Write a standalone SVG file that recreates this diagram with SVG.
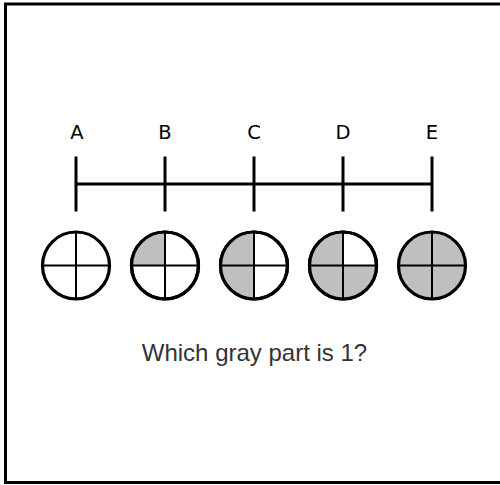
<svg xmlns="http://www.w3.org/2000/svg" width="500" height="485" viewBox="0 0 500 485">
<style>
.frame{fill:#fff;stroke:#000;stroke-width:3}
.ln{stroke:#000;stroke-width:3;fill:none}
.ring{fill:#fff;stroke:#000;stroke-width:3.2}
.cross{stroke:#000;stroke-width:2;fill:none}
.q{fill:#bfbfbf}
.lbl{font-family:"DejaVu Sans",sans-serif;font-size:19.5px;fill:#000;text-anchor:middle}
.cap{font-family:"Liberation Sans",Arial,sans-serif;font-size:24px;fill:#333;text-anchor:middle}
</style>
<defs>
<g id="cr"><line class="cross" x1="-33" y1="0" x2="33" y2="0"/><line class="cross" x1="0" y1="-33" x2="0" y2="33"/></g>
</defs>
<rect class="frame" x="5.5" y="4" width="500" height="478.5"/>
<g id="axis">
<line class="ln" x1="76" y1="184" x2="432" y2="184"/>
<line class="ln" x1="76" y1="156.5" x2="76" y2="211.5"/>
<line class="ln" x1="165" y1="156.5" x2="165" y2="211.5"/>
<line class="ln" x1="254" y1="156.5" x2="254" y2="211.5"/>
<line class="ln" x1="343" y1="156.5" x2="343" y2="211.5"/>
<line class="ln" x1="432" y1="156.5" x2="432" y2="211.5"/>
</g>
<g id="labels">
<text class="lbl" x="77" y="138.5">A</text>
<text class="lbl" x="165" y="138.5">B</text>
<text class="lbl" x="254" y="138.5">C</text>
<text class="lbl" x="343" y="138.5">D</text>
<text class="lbl" x="432" y="138.5">E</text>
</g>
<g id="circleA" transform="translate(76,265.5)">
<circle class="ring" r="33.5"/><use href="#cr"/>
</g>
<g id="circleB" transform="translate(165,265.5)">
<circle class="ring" r="33.5"/>
<path class="q" d="M0,0 L-33.5,0 A33.5,33.5 0 0 1 0,-33.5 Z"/>
<circle r="33.5" fill="none" stroke="#000" stroke-width="3.2"/><use href="#cr"/>
</g>
<g id="circleC" transform="translate(254,265.5)">
<circle class="ring" r="33.5"/>
<path class="q" d="M0,-33.5 A33.5,33.5 0 0 0 0,33.5 Z"/>
<circle r="33.5" fill="none" stroke="#000" stroke-width="3.2"/><use href="#cr"/>
</g>
<g id="circleD" transform="translate(343,265.5)">
<circle class="ring" r="33.5"/>
<path class="q" d="M0,0 L0,-33.5 A33.5,33.5 0 1 0 33.5,0 Z"/>
<circle r="33.5" fill="none" stroke="#000" stroke-width="3.2"/><use href="#cr"/>
</g>
<g id="circleE" transform="translate(432,265.5)">
<circle class="ring q" r="33.5" style="fill:#bfbfbf"/><use href="#cr"/>
</g>
<text class="cap" x="254.5" y="361">Which gray part is 1?</text>
</svg>
